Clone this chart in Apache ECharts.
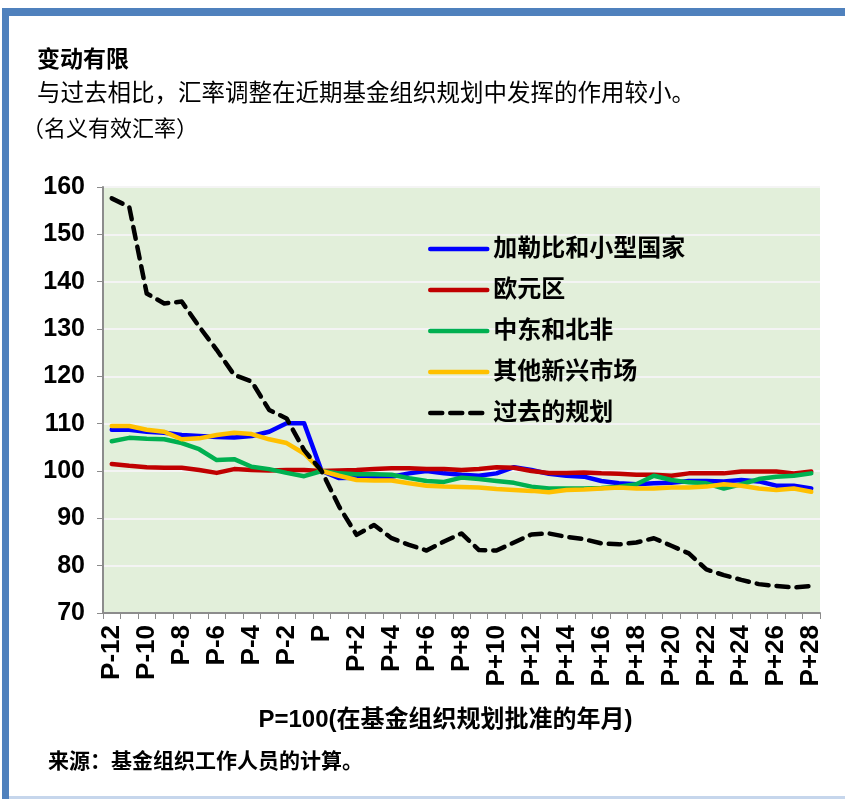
<!DOCTYPE html>
<html>
<head>
<meta charset="utf-8">
<script src="https://cdn.jsdelivr.net/npm/echarts@6/dist/echarts.min.js"></script>
<style>
  html, body { margin: 0; padding: 0; background: #fff; }
  #chart { width: 845px; height: 799px; }
</style>
</head>
<body>
<div id="chart"></div>
<script>
// 横轴：规划批准月份前后
var categories = ['P-12','P-11','P-10','P-9','P-8','P-7','P-6','P-5','P-4','P-3','P-2','P-1','P',
  'P+1','P+2','P+3','P+4','P+5','P+6','P+7','P+8','P+9','P+10','P+11','P+12','P+13','P+14',
  'P+15','P+16','P+17','P+18','P+19','P+20','P+21','P+22','P+23','P+24','P+25','P+26','P+27','P+28'];

var seriesNames = ['加勒比和小型国家', '欧元区', '中东和北非', '其他新兴市场', '过去的规划'];

var caribbean = [108.7,108.7,108.3,108.1,107.6,107.4,107.2,107.1,107.4,108.3,110.1,110.1,100,
  98.5,98.6,98.6,98.8,99.5,100,99.5,99.2,99.0,99.5,100.8,100.2,99.4,99.0,
  98.8,97.9,97.4,97.2,97.4,97.5,97.9,97.9,97.8,98.1,97.8,96.9,96.9,96.3];

var euroArea = [101.5,101.1,100.8,100.7,100.7,100.2,99.6,100.4,100.2,100.1,100.2,100.2,100,
  100.1,100.2,100.4,100.6,100.6,100.4,100.4,100.2,100.4,100.8,100.7,100,99.6,99.6,
  99.7,99.5,99.4,99.2,99.2,99.0,99.5,99.5,99.5,99.9,99.9,99.9,99.5,99.9];

var mena = [106.3,107,106.8,106.7,105.9,104.6,102.3,102.5,100.9,100.4,99.6,98.9,100,
  99.5,99.3,99.3,99.2,98.5,97.9,97.7,98.6,98.3,97.9,97.5,96.7,96.3,96.3,
  96.3,96.4,96.7,97.2,99.0,98.1,97.6,97.4,96.3,97.2,98.3,98.8,99.0,99.5];

var otherEm = [109.5,109.5,108.7,108.3,106.7,106.9,107.6,108.1,107.8,106.7,105.9,103.7,100,
  99.0,98.1,98.0,98.0,97.4,96.9,96.7,96.6,96.5,96.2,96.0,95.8,95.5,96.0,
  96.1,96.3,96.5,96.3,96.3,96.5,96.5,96.7,97.2,96.9,96.3,96.0,96.3,95.6];

var pastPrograms = [157.6,155.8,137.5,135.4,135.8,130.5,125.6,120.3,118.9,112.9,111.1,104.4,100,
  92.5,86.5,88.6,85.8,84.4,83.2,85.1,86.8,83.3,83.2,84.9,86.6,86.8,86.1,
  85.6,84.7,84.5,84.9,85.8,84.2,82.6,79.2,78.0,77.0,76.1,75.7,75.4,75.7];

var yTicks = { min: 70, max: 160, step: 10 };

var FONT = "Arial, 'Liberation Sans', 'Noto Sans CJK SC', sans-serif";

var myChart = echarts.init(document.getElementById('chart'));

function lineSeries(name, data, color, width, type) {
    return {
        name: name,
        type: 'line',
        data: data,
        symbol: 'none',
        smooth: false,
        z: type ? 3 : 2,
        lineStyle: { color: color, width: width, type: type || 'solid', cap: 'round', join: 'round' },
        itemStyle: { color: color }
    };
}

var option = {
    backgroundColor: '#ffffff',
    animation: false,
    title: [
        { text: '变动有限', left: 37, top: 49, padding: 0,
          textStyle: { fontFamily: FONT, fontSize: 23, fontWeight: 'bold', color: '#000' } },
        { text: '与过去相比，汇率调整在近期基金组织规划中发挥的作用较小。', left: 37, top: 83, padding: 0,
          textStyle: { fontFamily: FONT, fontSize: 23.5, fontWeight: 'normal', color: '#000' } },
        { text: '（名义有效汇率）', left: 22, top: 119, padding: 0,
          textStyle: { fontFamily: FONT, fontSize: 22, fontWeight: 'normal', color: '#000' } },
        { text: '来源：基金组织工作人员的计算。', left: 48, top: 752, padding: 0,
          textStyle: { fontFamily: FONT, fontSize: 21, fontWeight: 'bold', color: '#000' } }
    ],
    graphic: [
        { type: 'rect', shape: { x: 2, y: 8, width: 843, height: 8 }, style: { fill: '#4F81BD' } },
        { type: 'rect', shape: { x: 2, y: 8, width: 7, height: 791 }, style: { fill: '#4F81BD' } },
        { type: 'rect', shape: { x: 9, y: 796, width: 836, height: 3 }, style: { fill: '#C6D6EC' } }
    ],
    legend: {
        orient: 'vertical',
        left: 428,
        top: 237,
        padding: 0,
        itemWidth: 57,
        itemHeight: 24,
        itemGap: 17,
        data: seriesNames,
        itemStyle: { opacity: 0 },
        lineStyle: { width: 4.5, cap: 'round' },
        textStyle: { fontFamily: FONT, fontSize: 24, fontWeight: 'bold', color: '#000', padding: [0, 0, 0, 1] }
    },
    grid: {
        left: 103,
        right: 25,
        top: 187,
        bottom: 186,
        show: true,
        backgroundColor: '#E2EFDA',
        borderWidth: 0
    },
    xAxis: {
        type: 'category',
        data: categories,
        boundaryGap: true,
        name: 'P=100(在基金组织规划批准的年月)',
        nameLocation: 'middle',
        nameGap: 95,
        nameTextStyle: { fontFamily: FONT, fontSize: 24, fontWeight: 'bold', color: '#000', padding: [0, 32, 0, 0] },
        axisLine: { lineStyle: { color: '#8c8c8c', width: 2 } },
        axisTick: { show: true, interval: 0, length: 6, lineStyle: { color: '#8c8c8c' } },
        axisLabel: {
            interval: 1,
            rotate: 90,
            margin: 12,
            fontFamily: FONT,
            fontSize: 26,
            fontWeight: 'bold',
            color: '#000'
        },
        splitLine: { show: false }
    },
    yAxis: {
        type: 'value',
        min: yTicks.min,
        max: yTicks.max,
        interval: yTicks.step,
        axisLine: { show: true, lineStyle: { color: '#8c8c8c', width: 2 } },
        axisTick: { show: true, length: 6, lineStyle: { color: '#8c8c8c' } },
        axisLabel: { margin: 18, fontFamily: FONT, fontSize: 25, fontWeight: 'bold', color: '#000' },
        splitLine: { show: true, lineStyle: { color: '#F4F4F4', width: 2 } }
    },
    series: [
        lineSeries(seriesNames[0], caribbean, '#0000FF', 4.5),
        lineSeries(seriesNames[1], euroArea, '#C00000', 4.5),
        lineSeries(seriesNames[2], mena, '#00B050', 4.5),
        lineSeries(seriesNames[3], otherEm, '#FFC000', 4.5),
        lineSeries(seriesNames[4], pastPrograms, '#000000', 4.5, [12, 8])
    ]
};

myChart.setOption(option);
</script>
</body>
</html>
